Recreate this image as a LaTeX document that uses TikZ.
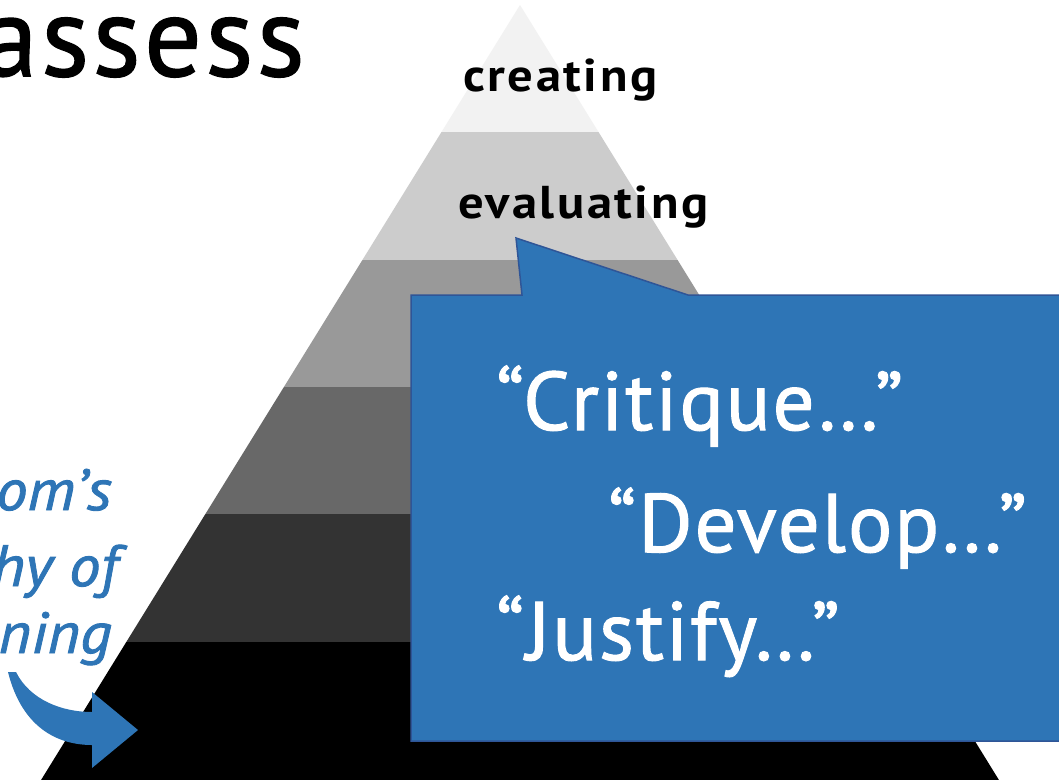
\documentclass[tikz,border=0pt]{standalone}
\usepackage{fontspec}
\setmainfont{PT Sans}
\newfontfamily\titlefont[LetterSpace=3,FakeBold=1.2]{PT Sans}
\newfontfamily\dinfont[LetterSpace=2.3,FakeBold=1.2]{PT Sans}
\newfontfamily\dinbold[LetterSpace=5.5,FakeStretch=1.1]{PT Sans Bold}
\newfontfamily\dinit[FakeBold=1.5,FakeStretch=1.08]{PT Sans Italic}
\definecolor{calloutblue}{HTML}{2E75B6}
\definecolor{calloutedge}{HTML}{2F5597}
\definecolor{lay1}{HTML}{F2F2F2}
\definecolor{lay2}{HTML}{CCCCCC}
\definecolor{lay3}{HTML}{999999}
\definecolor{lay4}{HTML}{686868}
\definecolor{lay5}{HTML}{333333}
\definecolor{lay6}{HTML}{000000}
\tikzset{
  lvl/.style={inner sep=0pt, anchor=base west, font=\dinbold\fontsize{46}{46}\selectfont, text=black},
  quote/.style={inner sep=0pt, anchor=base west, font=\dinfont\fontsize{83}{83}\selectfont, text=white},
  side/.style={inner sep=0pt, anchor=base east, font=\dinit\fontsize{58}{58}\selectfont, text=calloutblue},
}
\begin{document}
\begin{tikzpicture}[x=1pt,y=-1pt]
\path[use as bounding box] (0,0) rectangle (1059,779);
\clip (0,0) rectangle (1059,779);
\fill[white] (0,0) rectangle (1059,779);
% pyramid layers
\fill[lay1] (520,5) -- (598.5,132) -- (441.5,132) -- cycle;
\fill[lay2] (441.5,132) -- (598.5,132) -- (677.6,260) -- (362.4,260) -- cycle;
\fill[lay3] (362.4,260) -- (677.6,260) -- (756.1,387) -- (283.9,387) -- cycle;
\fill[lay4] (283.9,387) -- (756.1,387) -- (834.6,514) -- (205.4,514) -- cycle;
\fill[lay5] (205.4,514) -- (834.6,514) -- (913.7,642) -- (126.3,642) -- cycle;
\fill[lay6] (126.3,642) -- (913.7,642) -- (1011.3,800) -- (28.7,800) -- cycle;
% title
\node[inner sep=0pt, anchor=base east, font=\titlefont\fontsize{114}{114}\selectfont] (title) at (305,76) {assess};
% level labels
\node[lvl] (creating) at (463,91) {creating};
\node[lvl] (evaluating) at (458,218) {evaluating};
% callout
\filldraw[fill=calloutblue, draw=calloutedge, line width=1.5pt]
  (411,295) -- (522,295) -- (516,238) -- (688,295) -- (1075,295) -- (1075,741) -- (411,741) -- cycle;
\node[quote] (q1) at (496,430) {“Critique…”};
\node[quote] (q2) at (608,552) {“Develop…”};
\node[quote] (q3) at (496,660) {“Justify…”};
% side text
\node[side] (s1) at (112,510) {om’s};
\node[side] (s2) at (118,586) {hy of};
\node[side] (s3) at (112,653) {ning};
% curved arrow
\fill[calloutblue] (8,672) .. controls (22,728) and (58,745) .. (92,745) -- (92,768) -- (138,730) -- (92,692) -- (92,712) .. controls (62,712) and (30,700) .. (16,672) -- cycle;
\end{tikzpicture}
\end{document}
